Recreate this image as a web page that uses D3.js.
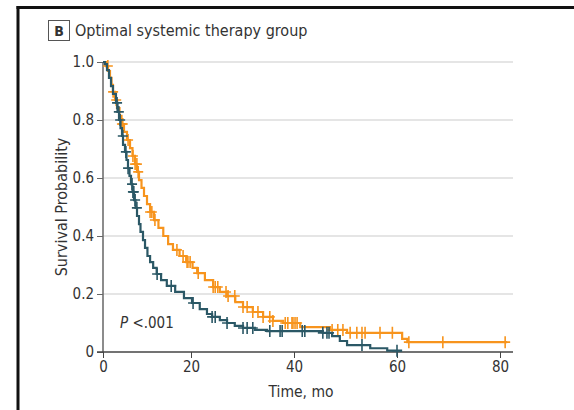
<!DOCTYPE html>
<html>
<head>
<meta charset="utf-8">
<script src="https://cdn.jsdelivr.net/npm/d3@7"></script>
<style>
  body { margin: 0; background: #fff; }
  text { font-family: "DejaVu Sans Condensed", "DejaVu Sans", sans-serif; font-stretch: condensed; fill: #333; }
</style>
</head>
<body>
<div id="chart"></div>
<script>
// Kaplan-Meier steps (time in months, survival probability)
const tealTimes = [0, 0.45, 0.91, 1.36, 1.82, 2.27, 2.95, 3.3, 3.64, 3.98, 4.32, 4.55, 5.0, 5.34, 5.68, 6.02, 6.36, 6.7, 7.05, 7.39, 7.73, 8.18, 8.52, 9.09, 9.55, 10.1, 10.7, 11.4, 12.2, 13.2, 14.5, 16.4, 18.4, 20.2, 21.7, 23.1, 24.1, 25.6, 27.0, 28.5, 30.1, 32.4, 34.8, 45.6, 47.4, 48.9, 50.3, 54.8, 58.1, 61.0];
const tealSurv = [1.0, 0.993, 0.972, 0.945, 0.917, 0.89, 0.859, 0.828, 0.8, 0.772, 0.745, 0.714, 0.69, 0.662, 0.634, 0.607, 0.579, 0.552, 0.524, 0.497, 0.469, 0.441, 0.414, 0.386, 0.359, 0.331, 0.31, 0.29, 0.269, 0.248, 0.228, 0.207, 0.186, 0.169, 0.148, 0.131, 0.121, 0.11, 0.1, 0.09, 0.083, 0.076, 0.072, 0.066, 0.055, 0.038, 0.024, 0.013, 0.0045, 0.0045];
const orangeTimes = [0, 0.68, 1.14, 1.59, 1.93, 2.27, 2.73, 3.18, 3.75, 4.2, 4.77, 5.45, 6.14, 6.7, 7.27, 7.73, 8.18, 8.75, 9.32, 10.0, 10.7, 11.6, 12.6, 13.7, 14.8, 15.9, 17.4, 18.9, 20.3, 21.2, 22.7, 24.3, 25.6, 27.0, 28.6, 30.1, 32.0, 34.0, 35.9, 37.9, 41.2, 47.0, 50.3, 61.0, 62.0, 81.4];
const orangeSurv = [1.0, 0.986, 0.969, 0.945, 0.921, 0.897, 0.869, 0.841, 0.814, 0.786, 0.759, 0.731, 0.703, 0.676, 0.648, 0.621, 0.593, 0.566, 0.538, 0.51, 0.483, 0.455, 0.428, 0.4, 0.372, 0.352, 0.331, 0.31, 0.29, 0.272, 0.248, 0.224, 0.207, 0.193, 0.172, 0.155, 0.138, 0.121, 0.107, 0.1, 0.086, 0.076, 0.066, 0.045, 0.034, 0.034];

// censored observations
const tealCensor = [3.2, 3.6, 3.9, 4.5, 5.2, 5.7, 6.6, 6.8, 7.0, 7.3, 7.7, 12.3, 15.5, 20.4, 24.1, 24.7, 27.0, 30.1, 30.9, 32.0, 35.3, 37.3, 37.7, 41.6, 42.1, 45.6, 46.4, 46.8, 53.2, 60.0];
const orangeCensor = [1.1, 2.3, 3.0, 4.3, 4.5, 5.7, 6.8, 7.3, 7.7, 8.0, 10.7, 11.1, 11.8, 16.8, 18.2, 19.1, 19.3, 19.8, 21.4, 24.3, 24.7, 25.2, 26.8, 27.2, 28.5, 30.1, 30.9, 32.0, 33.0, 34.0, 35.3, 35.9, 38.3, 38.8, 39.6, 39.8, 40.2, 40.6, 47.4, 48.5, 49.5, 50.9, 52.2, 53.2, 53.8, 56.7, 59.1, 62.3, 68.9, 81.0];

const xTicks = [0, 20, 40, 60, 80];
const yTicks = [0, 0.2, 0.4, 0.6, 0.8, 1.0];

const width = 574, height = 410;
const teal = '#2b5866', orange = '#f7941d';

const svg = d3.select('#chart').append('svg')
    .attr('width', width)
    .attr('height', height);

// panel frame
svg.append('line').attr('x1', 18).attr('x2', 18).attr('y1', 6).attr('y2', height)
    .attr('stroke', '#111').attr('stroke-width', 3);
svg.append('line').attr('x1', 16.5).attr('x2', width).attr('y1', 7.5).attr('y2', 7.5)
    .attr('stroke', '#111').attr('stroke-width', 3);

// title
svg.append('rect').attr('x', 48.5).attr('y', 20.5).attr('width', 21).attr('height', 20)
    .attr('fill', 'none').attr('stroke', '#555').attr('stroke-width', 1);
svg.append('text').attr('x', 59).attr('y', 36).attr('text-anchor', 'middle')
    .attr('font-size', 14).attr('font-weight', 'bold').text('B');
svg.append('text').attr('x', 75).attr('y', 36).attr('font-size', 16).text('Optimal systemic therapy group');

// the picture's x ticks are not evenly spaced, so the scale follows them
const x = d3.scaleLinear().domain([0, 20, 80]).range([103, 191, 500]);
const y = d3.scaleLinear().domain([0, 1]).range([352, 62]);
const xEnd = 513;

// grid
svg.append('g').selectAll('line')
    .data(yTicks.filter(d => d > 0))
    .join('line')
    .attr('x1', x(0)).attr('x2', xEnd)
    .attr('y1', d => y(d)).attr('y2', d => y(d))
    .attr('stroke', '#dcdcdc').attr('stroke-width', 1.5);

// y axis
const yAxis = svg.append('g')
    .attr('transform', `translate(${x(0)},0)`)
    .call(d3.axisLeft(y).tickValues(yTicks).tickSize(6).tickPadding(3)
        .tickFormat(d => d === 0 ? '0' : d3.format('.1f')(d)));
yAxis.select('.domain').attr('stroke', '#666').attr('stroke-width', 1.5).attr('d', `M0,${y(1)}V${y(0)}`);
yAxis.selectAll('.tick line').attr('stroke', '#666');
yAxis.selectAll('text').attr('font-size', 15).style('font-family', null);

// x axis
const xAxis = svg.append('g')
    .attr('transform', `translate(0,${y(0)})`)
    .call(d3.axisBottom(x).tickValues(xTicks).tickSize(6).tickPadding(3));
xAxis.select('.domain').attr('stroke', '#444').attr('stroke-width', 1.5).attr('d', `M${x(0) - 6},0H${xEnd}`);
xAxis.selectAll('.tick line').attr('stroke', '#444');
xAxis.selectAll('text').attr('font-size', 15).style('font-family', null);

// axis titles
svg.append('text')
    .attr('transform', `translate(67,${(y(0) + y(1)) / 2}) rotate(-90)`)
    .attr('text-anchor', 'middle').attr('font-size', 16)
    .text('Survival Probability');
svg.append('text').attr('x', 301).attr('y', 397)
    .attr('text-anchor', 'middle').attr('font-size', 15.5)
    .text('Time, mo');

// P value
const p = svg.append('text').attr('x', 120).attr('y', 328).attr('font-size', 15);
p.append('tspan').attr('font-style', 'italic').text('P');
p.append('tspan').text(' <.001');

const line = d3.line()
    .x(d => x(d[0]))
    .y(d => y(d[1]))
    .curve(d3.curveStepAfter);

function survAt(times, surv, t) {
    const i = d3.bisectRight(times, t) - 1;
    return surv[Math.max(0, i)];
}

function drawGroup(times, surv, censor, color) {
    svg.append('path')
        .datum(d3.zip(times, surv))
        .attr('d', line)
        .attr('fill', 'none')
        .attr('stroke', color)
        .attr('stroke-width', 2.2);
    svg.append('g').selectAll('path')
        .data(censor)
        .join('path')
        .attr('d', d => {
            const cx = x(d), cy = y(survAt(times, surv, d));
            return `M${cx - 5},${cy}H${cx + 5}M${cx},${cy - 6}V${cy + 6}`;
        })
        .attr('stroke', color)
        .attr('stroke-width', 1.6)
        .attr('fill', 'none');
}

drawGroup(orangeTimes, orangeSurv, orangeCensor, orange);
drawGroup(tealTimes, tealSurv, tealCensor, teal);
</script>
</body>
</html>
